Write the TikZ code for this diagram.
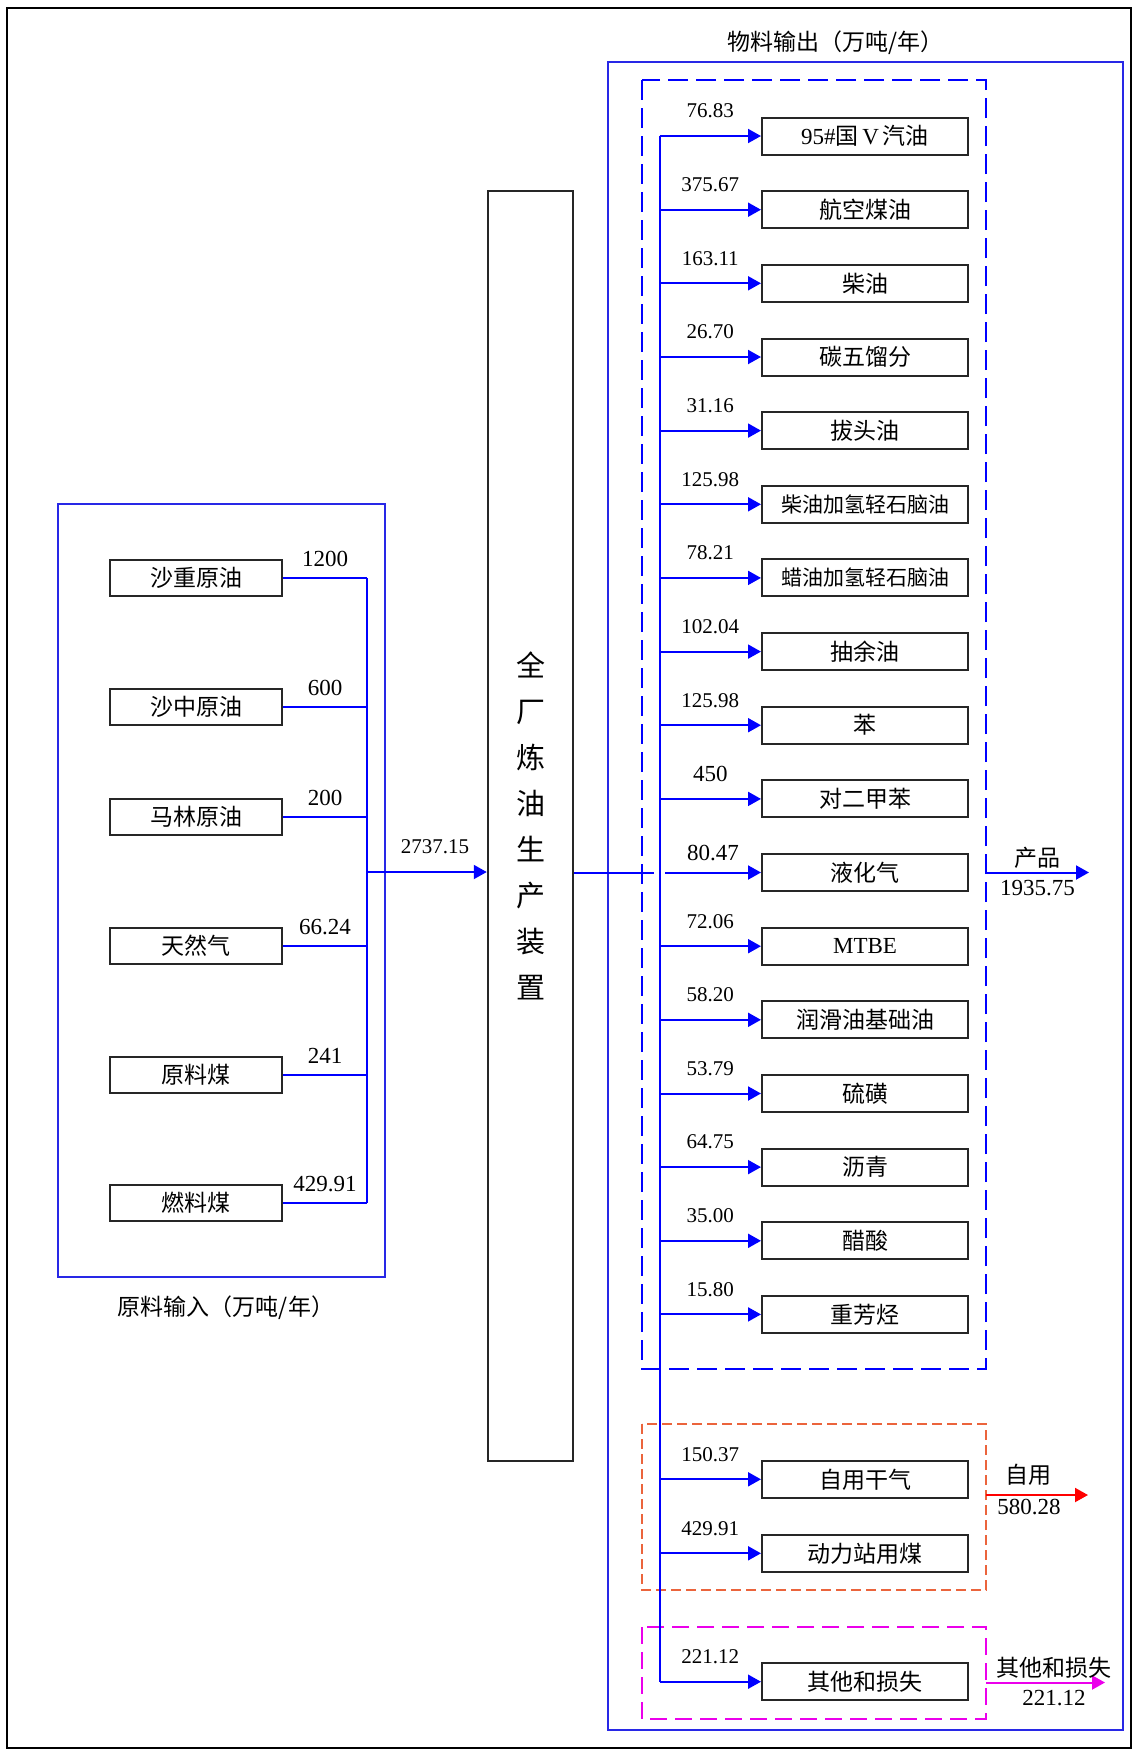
\documentclass[tikz,border=0pt]{standalone}
\usepackage{fontspec}
\setmainfont{Liberation Serif}
\newfontfamily\cjk{Noto Sans CJK SC}
\usetikzlibrary{arrows.meta}
\definecolor{outblue}{RGB}{40,40,230}
\definecolor{selfred}{RGB}{235,100,60}
\definecolor{lossmag}{RGB}{235,0,235}
\tikzset{
	box/.style={draw=black!85, line width=1pt, fill=white, inner sep=0pt, font=\cjk\fontsize{11.5}{13}\selectfont},
	inbox/.style={box, minimum width=86pt, minimum height=18pt},
	prodbox/.style={box, minimum width=103pt, minimum height=18.5pt},
	flow/.style={draw=blue, line width=1pt},
	arr/.style={flow, -{Triangle[length=6.5pt,width=7pt]}},
	num/.style={inner sep=0pt, font=\fontsize{10.5}{12}\selectfont, yshift=12.5pt},
	innum/.style={inner sep=0pt, font=\fontsize{11.5}{13}\selectfont, yshift=9.5pt},
	glab/.style={inner sep=0pt, font=\fontsize{11.5}{13}\selectfont},
	title/.style={inner sep=0pt, font=\cjk\fontsize{11.5}{13}\selectfont}
}

\begin{document}
\begin{tikzpicture}[x=0.5pt, y=-0.5pt]
		%%%%% START %%%%%
		\useasboundingbox (0,0) rectangle (1134,1751);
		\draw[line width=1.2pt] (7,8) rectangle (1131,1748);
		
		% input side
		\draw[outblue, line width=1pt] (58,504) rectangle (384.5,1277);
		\node[title] at (226,1308) {原料输入（万吨/年）};
		
		\node[inbox] (szy) at (196,578) {沙重原油};
		\node[inbox] (szh) at (196,707) {沙中原油};
		\node[inbox] (mly) at (196,817) {马林原油};
		\node[inbox] (trq) at (196,946) {天然气};
		\node[inbox] (ylm) at (196,1075) {原料煤};
		\node[inbox] (rlm) at (196,1203) {燃料煤};
		
		\coordinate (tin) at (367,872);
		\draw[flow] (szy.east) -- node[innum]{1200} (szy.east -| tin);
		\draw[flow] (szh.east) -- node[innum]{600} (szh.east -| tin);
		\draw[flow] (mly.east) -- node[innum]{200} (mly.east -| tin);
		\draw[flow] (trq.east) -- node[innum]{66.24} (trq.east -| tin);
		\draw[flow] (ylm.east) -- node[innum]{241} (ylm.east -| tin);
		\draw[flow] (rlm.east) -- node[innum]{429.91} (rlm.east -| tin);
		\draw[flow] (szy.east -| tin) -- (rlm.east -| tin);
		
		% plant
		\node[box, minimum width=42.75pt, minimum height=635pt, align=center, font=\cjk\fontsize{14.5}{23}\selectfont] (plant) at (530.5,826) {全\\厂\\炼\\油\\生\\产\\装\\置};
		\draw[arr] (tin) -- node[num, xshift=4pt]{2737.15} (plant.west |- tin);
		
		% output side
		\draw[outblue, line width=1pt] (607.5,62) rectangle (1123,1730);
		\node[title] at (835,43) {物料输出（万吨/年）};
		\draw[blue, line width=1.25pt, dash pattern=on 10pt off 4pt] (642,80) rectangle (986,1369);
		\draw[selfred, line width=0.9pt, dash pattern=on 5pt off 2.5pt] (642,1424) rectangle (986,1590);
		\draw[lossmag, line width=1.1pt, dash pattern=on 8.5pt off 4pt] (642,1627) rectangle (986,1719);
		
		\node[prodbox] (p1) at (865,136) {{\rmfamily 95\#}国{\rmfamily\,V\,}汽油};
		\node[prodbox] (p2) at (865,209.7) {航空煤油};
		\node[prodbox] (p3) at (865,283.3) {柴油};
		\node[prodbox] (p4) at (865,357) {碳五馏分};
		\node[prodbox] (p5) at (865,430.6) {拔头油};
		\node[prodbox] (p6) at (865,504.3) {{\fontsize{10.5}{12}\selectfont 柴油加氢轻石脑油}};
		\node[prodbox] (p7) at (865,577.9) {{\fontsize{10.5}{12}\selectfont 蜡油加氢轻石脑油}};
		\node[prodbox] (p8) at (865,651.6) {抽余油};
		\node[prodbox] (p9) at (865,725.2) {苯};
		\node[prodbox] (p10) at (865,798.9) {对二甲苯};
		\node[prodbox] (p11) at (865,872.5) {液化气};
		\node[prodbox] (p12) at (865,946.2) {{\rmfamily MTBE}};
		\node[prodbox] (p13) at (865,1019.8) {润滑油基础油};
		\node[prodbox] (p14) at (865,1093.5) {硫磺};
		\node[prodbox] (p15) at (865,1167.1) {沥青};
		\node[prodbox] (p16) at (865,1240.8) {醋酸};
		\node[prodbox] (p17) at (865,1314.4) {重芳烃};
		\node[prodbox] (zyg) at (865,1479.3) {自用干气};
		\node[prodbox] (dlz) at (865,1553.3) {动力站用煤};
		\node[prodbox] (qt) at (865,1681.7) {其他和损失};
		
		\coordinate (tout) at (659.5,136);
		\coordinate (hop) at (654,872.5);
		\coordinate (hop2) at (665,872.5);
		\draw[flow] (plant.east |- hop) -- (hop);
		\draw[flow] (tout) -- (tout |- qt.west);
		
		\draw[arr] (tout |- p1.west) -- node[num]{76.83} (p1.west);
		\draw[arr] (tout |- p2.west) -- node[num]{375.67} (p2.west);
		\draw[arr] (tout |- p3.west) -- node[num]{163.11} (p3.west);
		\draw[arr] (tout |- p4.west) -- node[num]{26.70} (p4.west);
		\draw[arr] (tout |- p5.west) -- node[num]{31.16} (p5.west);
		\draw[arr] (tout |- p6.west) -- node[num]{125.98} (p6.west);
		\draw[arr] (tout |- p7.west) -- node[num]{78.21} (p7.west);
		\draw[arr] (tout |- p8.west) -- node[num]{102.04} (p8.west);
		\draw[arr] (tout |- p9.west) -- node[num]{125.98} (p9.west);
		\draw[arr] (tout |- p10.west) -- node[num, font=\fontsize{11.5}{13}\selectfont]{450} (p10.west);
		\draw[arr] (hop2) -- node[num, yshift=-3pt, font=\fontsize{11.5}{13}\selectfont]{80.47} (p11.west);
		\draw[arr] (tout |- p12.west) -- node[num]{72.06} (p12.west);
		\draw[arr] (tout |- p13.west) -- node[num]{58.20} (p13.west);
		\draw[arr] (tout |- p14.west) -- node[num]{53.79} (p14.west);
		\draw[arr] (tout |- p15.west) -- node[num]{64.75} (p15.west);
		\draw[arr] (tout |- p16.west) -- node[num]{35.00} (p16.west);
		\draw[arr] (tout |- p17.west) -- node[num]{15.80} (p17.west);
		\draw[arr] (tout |- zyg.west) -- node[num]{150.37} (zyg.west);
		\draw[arr] (tout |- dlz.west) -- node[num]{429.91} (dlz.west);
		\draw[arr] (tout |- qt.west) -- node[num]{221.12} (qt.west);
		
		% group totals
		\coordinate (cpA) at (986,872.5);
		\coordinate (cpB) at (1089,872.5);
		\coordinate (zyA) at (986,1495);
		\coordinate (zyB) at (1088,1495);
		\coordinate (qtA) at (986,1682.5);
		\coordinate (qtB) at (1105,1682.5);
		\draw[arr] (cpA) -- node[glab, yshift=7.5pt, font=\cjk\fontsize{11.5}{13}\selectfont]{产品} node[glab, yshift=-8pt]{1935.75} (cpB);
		\draw[arr, draw=red] (zyA) -- node[glab, xshift=-4.5pt, yshift=10pt, font=\cjk\fontsize{11.5}{13}\selectfont]{自用} node[glab, xshift=-4pt, yshift=-6pt]{580.28} (zyB);
		\draw[arr, draw=lossmag] (qtA) -- node[glab, xshift=4.25pt, yshift=7.3pt, font=\cjk\fontsize{11.5}{13}\selectfont]{其他和损失} node[glab, xshift=4.25pt, yshift=-7.6pt]{221.12} (qtB);
		%%%%% END %%%%%
\end{tikzpicture}
\end{document}
